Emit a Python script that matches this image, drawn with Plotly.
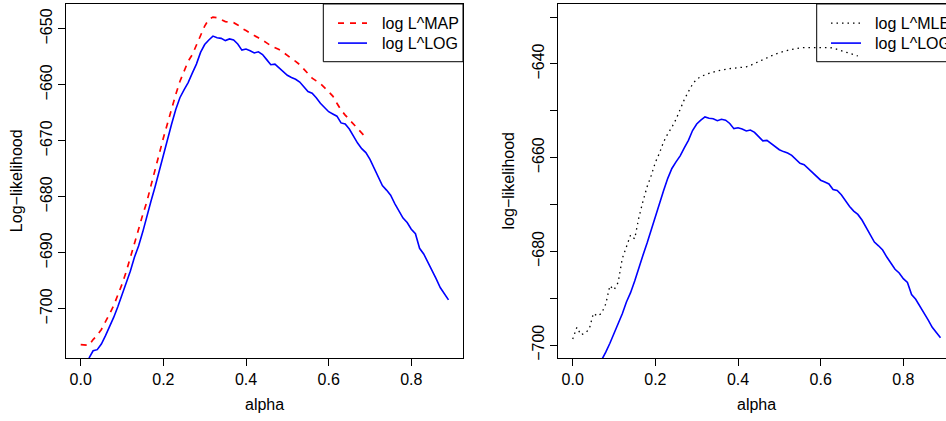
import plotly.graph_objects as go

# ---------------- data ----------------
alpha_log = [round(i * 0.01, 2) for i in range(90)]      # 0.00 .. 0.89
alpha_short = [round(i * 0.01, 2) for i in range(70)]    # 0.00 .. 0.69

log_LOG = [
    -710.5, -710.0, -708.8, -707.5, -707.3, -706.3, -704.8, -703.3, -701.5, -699.6,
    -697.6, -695.6, -693.3, -690.8, -688.8, -686.3, -683.4, -680.8, -678.2, -675.3,
    -672.3, -669.6, -667.0, -664.4, -662.3, -660.9, -659.6, -657.9, -656.3, -654.2,
    -652.8, -652.0, -651.3, -651.6, -651.7, -652.1, -651.8, -652.0, -652.7, -653.8,
    -653.6, -653.9, -654.3, -654.1, -654.6, -655.5, -656.4, -656.3, -657.0, -657.6,
    -658.3, -658.7, -659.0, -659.5, -660.4, -661.2, -661.5, -662.3, -663.3, -664.0,
    -664.8, -665.2, -665.6, -666.8, -667.0, -667.9, -669.2, -670.4, -671.4, -672.1,
    -673.3, -674.9, -676.6, -678.0, -678.8, -679.7, -681.2, -682.6, -683.8, -684.6,
    -685.8, -686.6, -689.2, -690.2, -691.6, -693.0, -694.6, -696.2, -697.4, -698.4,
]

log_MAP = [
    -706.4, -706.5, -706.5, -705.5, -704.7, -703.7, -702.4, -700.9, -699.4, -697.6,
    -695.6, -693.4, -691.0, -688.5, -685.8, -683.2, -680.9, -678.0, -675.1, -672.1,
    -669.5, -666.9, -664.2, -661.7, -659.4, -657.5, -655.8, -654.6, -653.0, -651.2,
    -649.5, -648.3, -647.9, -648.0, -648.3, -648.7, -648.8, -648.9, -649.3, -649.9,
    -650.3, -650.8, -651.2, -651.6, -652.0, -652.5, -653.0, -653.3, -653.7, -654.2,
    -654.8, -655.3, -655.8, -656.4, -657.2, -658.1, -658.8, -659.3, -659.8, -660.5,
    -661.3, -662.0, -663.3, -664.5, -665.4, -666.2, -667.1, -667.9, -668.7, -669.4,
]

log_MLE = [
    -698.7, -696.2, -697.8, -697.4, -696.6, -693.2, -693.8, -693.2, -691.2, -687.3,
    -688.2, -686.6, -681.5, -678.8, -676.5, -677.3, -672.8, -669.3, -666.2, -663.8,
    -661.0, -659.0, -656.6, -654.9, -653.5, -651.8, -649.5, -647.6, -645.9, -644.3,
    -643.2, -642.7, -642.3, -642.0, -641.7, -641.5, -641.3, -641.1, -641.0, -640.9,
    -640.8, -640.7, -640.6, -640.3, -639.9, -639.4, -639.0, -638.6, -638.2, -637.9,
    -637.6, -637.3, -637.1, -636.9, -636.7, -636.6, -636.5, -636.5, -636.4, -636.4,
    -636.4, -636.4, -636.5, -636.6, -636.9, -637.1, -637.4, -637.7, -638.0, -638.3,
]

x_ticks = [0.0, 0.2, 0.4, 0.6, 0.8]
x_ticktext = ["0.0", "0.2", "0.4", "0.6", "0.8"]
left_yticks = [-700, -690, -680, -670, -660, -650]
right_yticks = [-700, -690, -680, -670, -660, -650, -640, -630]
right_yticktext = ["\u2212700", "", "\u2212680", "", "\u2212660", "", "\u2212640", ""]

legend_left = ["log L^MAP", "log L^LOG"]
legend_right = ["log L^MLE", "log L^LOG"]

# ---------------- layout helpers ----------------
W, H = 946, 421
FONT = "Liberation Sans, Arial, Helvetica, sans-serif"


def px(x):
    return x / W


def py(y):
    return 1 - y / H


RED = "#FF0000"
BLUE = "#0000FF"
BLACK = "#000000"

fig = go.Figure()

fig.add_trace(go.Scatter(x=alpha_short, y=log_MAP, mode="lines", xaxis="x", yaxis="y",
                         line=dict(color=RED, width=1.7, dash="6px,6px"), showlegend=False))
fig.add_trace(go.Scatter(x=alpha_log, y=log_LOG, mode="lines", xaxis="x", yaxis="y",
                         line=dict(color=BLUE, width=1.6), showlegend=False))
fig.add_trace(go.Scatter(x=alpha_short, y=log_MLE, mode="lines", xaxis="x2", yaxis="y2",
                         line=dict(color=BLACK, width=1.3, dash="1.5px,4px"), showlegend=False))
fig.add_trace(go.Scatter(x=alpha_log, y=log_LOG, mode="lines", xaxis="x2", yaxis="y2",
                         line=dict(color=BLUE, width=1.6), showlegend=False))

axis_common = dict(
    showgrid=False, zeroline=False, showline=True, linecolor=BLACK, linewidth=1,
    ticks="outside", ticklen=7, tickwidth=1, tickcolor=BLACK,
    tickfont=dict(family=FONT, size=16, color=BLACK),
)

fig.update_layout(
    width=W, height=H,
    margin=dict(l=0, r=0, t=0, b=0),
    paper_bgcolor="white", plot_bgcolor="white",
    showlegend=False,
    xaxis=dict(domain=[px(66), px(463)], range=[-0.0356, 0.9251], anchor="y",
               tickvals=x_ticks, ticktext=x_ticktext, mirror=True, **axis_common),
    yaxis=dict(domain=[py(360), py(4)], range=[-708.84, -645.56], anchor="x",
               tickvals=left_yticks, tickangle=-90, mirror=True, **axis_common),
    xaxis2=dict(domain=[px(558), 1.0], range=[-0.0356, 0.9033], anchor="y2",
                tickvals=x_ticks, ticktext=x_ticktext, mirror=True, **axis_common),
    yaxis2=dict(domain=[py(360), py(4)], range=[-702.8, -627.2], anchor="x2",
                tickvals=right_yticks, ticktext=right_yticktext, tickangle=-90,
                mirror=False, **axis_common),
)

annotations = []
shapes = []

# axis titles
for cx, txt in [((66 + 463) / 2, "alpha"), ((558 + 955) / 2, "alpha")]:
    annotations.append(dict(x=px(cx), y=py(406), xref="paper", yref="paper", text=txt,
                            showarrow=False, xanchor="center", yanchor="middle",
                            font=dict(family=FONT, size=16, color=BLACK)))
for cx, txt in [(16, "Log\u2212likelihood"), (508.3, "log\u2212likelihood")]:
    annotations.append(dict(x=px(cx), y=py(182), xref="paper", yref="paper", text=txt,
                            showarrow=False, xanchor="center", yanchor="middle", textangle=-90,
                            font=dict(family=FONT, size=16, color=BLACK)))


# legends (drawn as boxes, sample lines and labels; transparent background like R)
def add_legend(x0, x1, labels, styles, sample_x0, sample_x1, text_x):
    shapes.append(dict(type="rect", xref="paper", yref="paper",
                       x0=px(x0), x1=px(x1), y0=py(62), y1=py(4),
                       line=dict(color=BLACK, width=1), fillcolor="rgba(0,0,0,0)",
                       layer="above"))
    for i, (lab, st) in enumerate(zip(labels, styles)):
        yy = 23.3 + 20 * i
        shapes.append(dict(type="line", xref="paper", yref="paper",
                           x0=px(sample_x0), x1=px(sample_x1), y0=py(yy), y1=py(yy),
                           line=st, layer="above"))
        annotations.append(dict(x=px(text_x), y=py(yy), xref="paper", yref="paper", text=lab,
                                showarrow=False, xanchor="left", yanchor="middle",
                                font=dict(family=FONT, size=16, color=BLACK)))


add_legend(323.3, 463, legend_left,
           [dict(color=RED, width=1.7, dash="6px,6px"), dict(color=BLUE, width=1.6)],
           338, 367, 380)
add_legend(816.7, 1000, legend_right,
           [dict(color=BLACK, width=1.3, dash="1.5px,4px"), dict(color=BLUE, width=1.6)],
           831, 861, 873)

fig.update_layout(annotations=annotations, shapes=shapes)

fig.write_html("out.html")
